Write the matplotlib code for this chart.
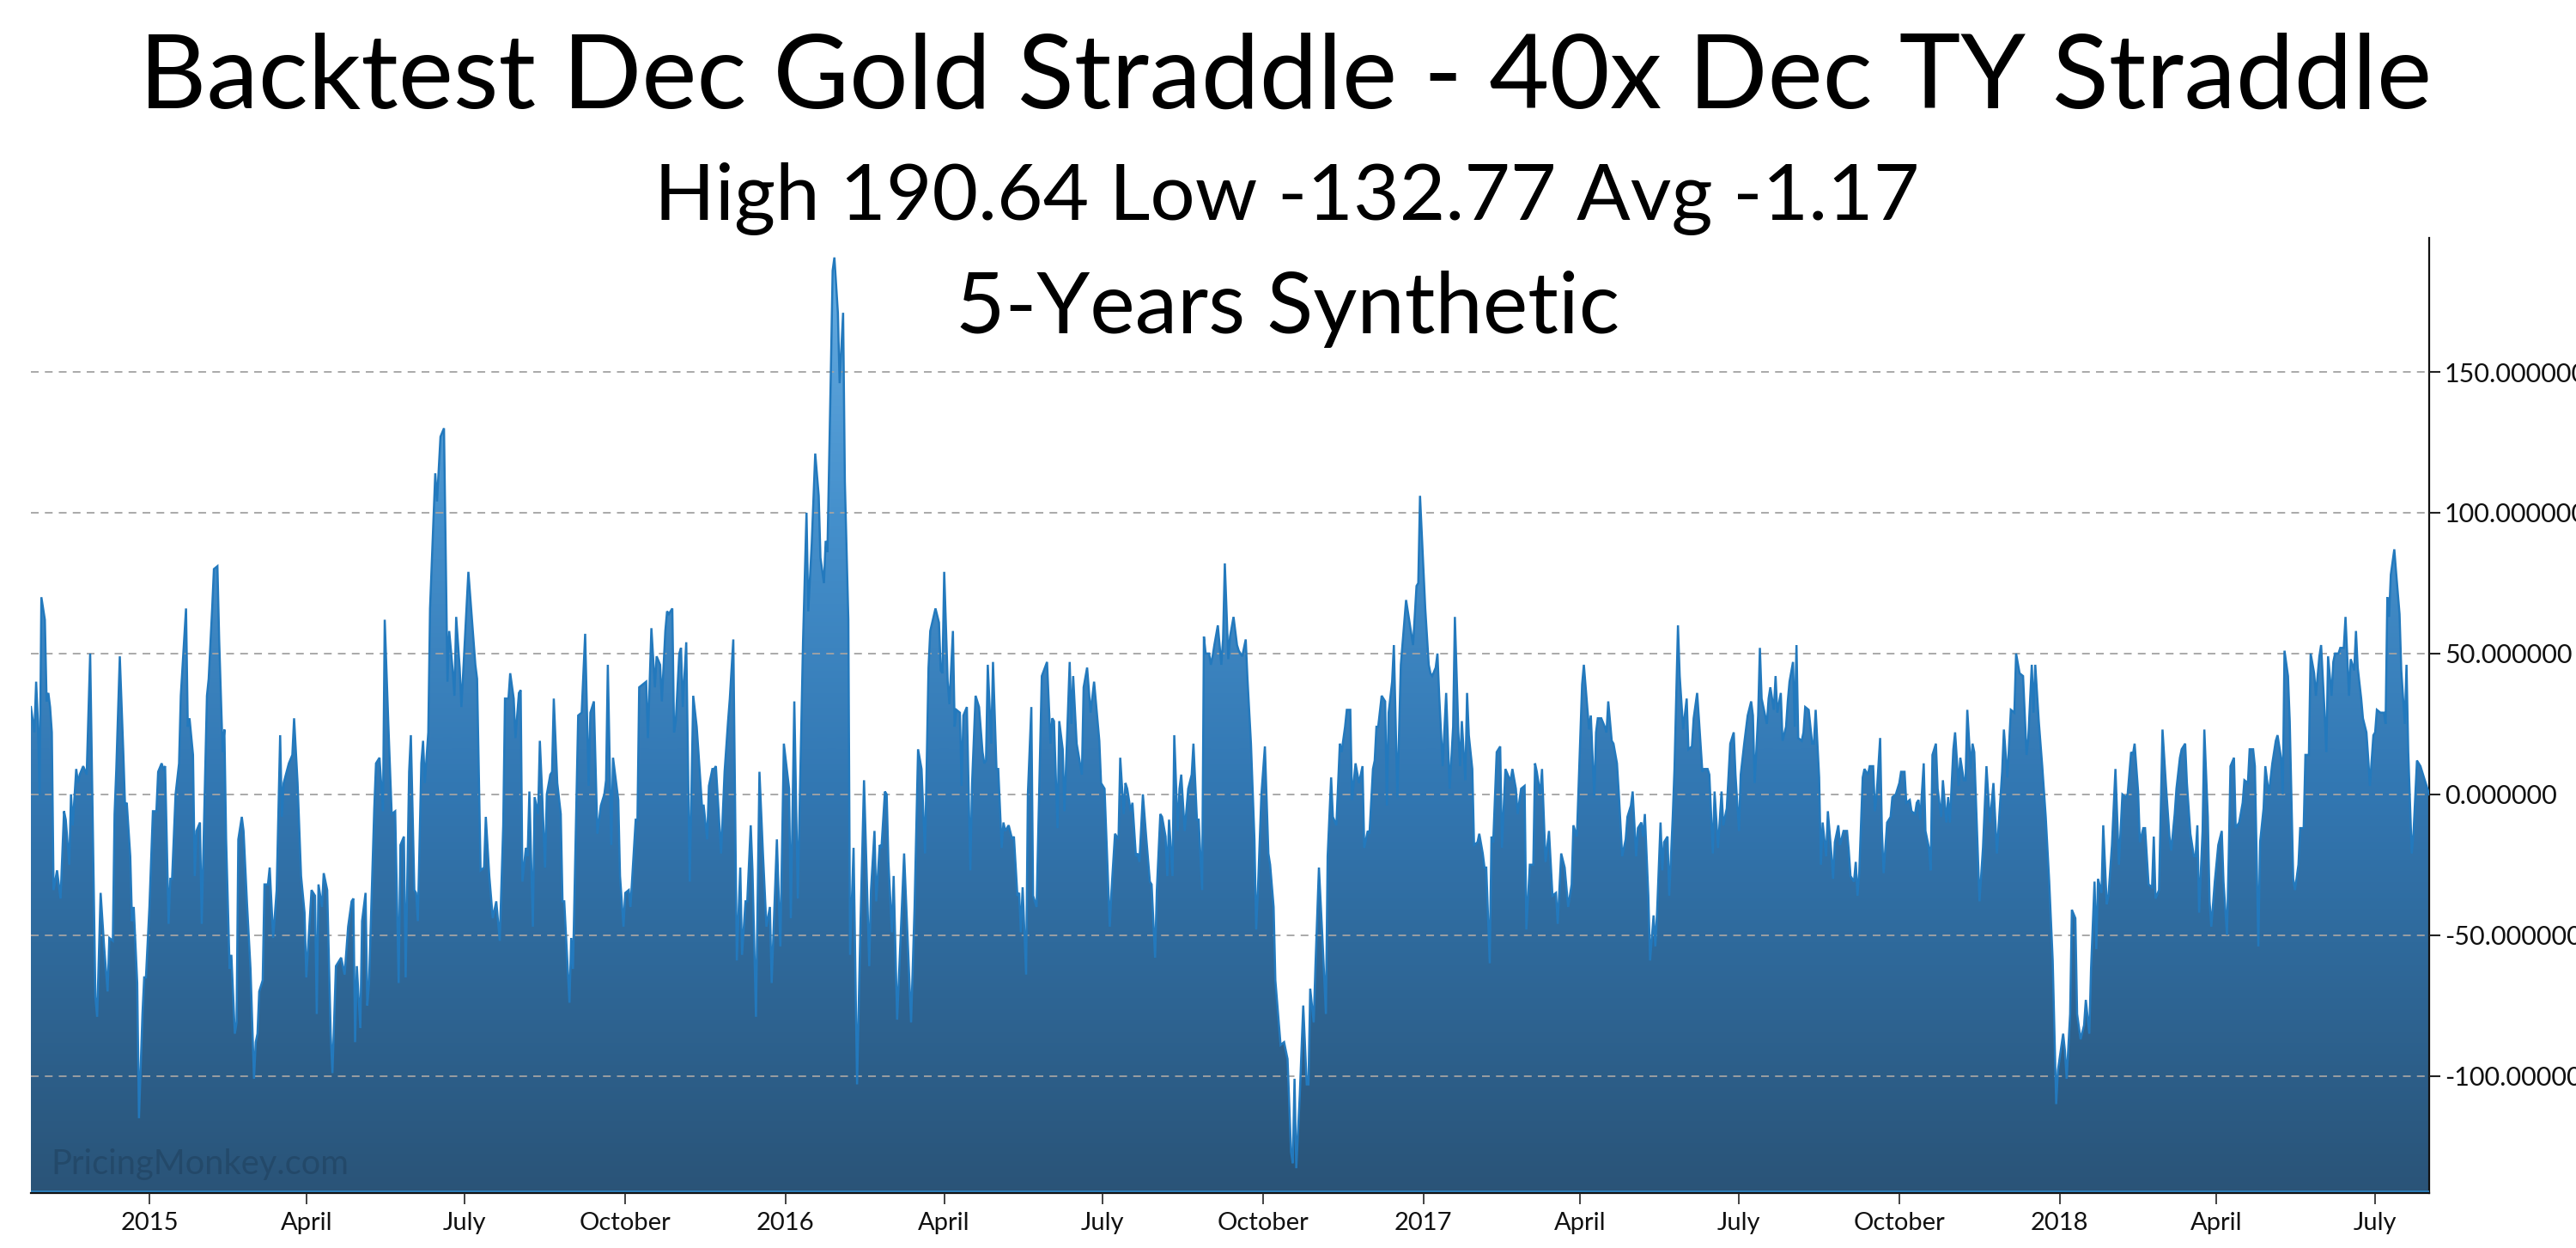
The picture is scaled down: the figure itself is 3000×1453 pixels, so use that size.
#!/usr/bin/env python3

import numpy as np
import pandas as pd
import matplotlib
matplotlib.use("Agg")
import matplotlib.pyplot as plt
import matplotlib.dates as mdates
from matplotlib.colors import LinearSegmentedColormap

# spread P&L: days after START and value
START = "2014-10-24"

day_offset = [
    1, 3, 4, 5, 6, 7, 9, 10, 11, 12,
    13, 14, 16, 17, 18, 20, 21, 23, 24, 25,
    27, 28, 29, 31, 33, 35, 38, 39, 41, 43,
    45, 46, 48, 49, 50, 52, 54, 55, 56, 58,
    59, 60, 62, 63, 65, 66, 67, 69, 71, 73,
    74, 76, 77, 78, 80, 81, 82, 84, 86, 87,
    90, 91, 92, 94, 95, 96, 98, 99, 101, 102,
    103, 105, 106, 108, 109, 111, 112, 113, 115, 116,
    118, 119, 120, 122, 123, 125, 127, 129, 130, 131,
    132, 134, 135, 137, 138, 140, 142, 144, 145, 146,
    149, 151, 152, 154, 156, 158, 159, 162, 164, 165,
    166, 168, 169, 171, 173, 174, 176, 178, 179, 181,
    183, 185, 186, 187, 188, 190, 191, 193, 194, 195,
    198, 199, 201, 203, 204, 206, 208, 210, 212, 213,
    215, 216, 218, 219, 221, 222, 223, 225, 226, 227,
    229, 230, 233, 234, 236, 238, 239, 240, 241, 243,
    244, 245, 247, 248, 250, 252,
    256, 257, 259, 261, 262, 264, 266, 268, 270, 272,
    273, 275, 276, 278, 279, 281, 282, 283, 285, 286,
    287, 289, 290, 292, 293, 294, 296, 297, 299, 300,
    301, 303, 305, 306, 307, 310, 311, 312, 315, 317,
    319, 321, 322, 324, 326, 328, 330, 331, 332, 334,
    335, 338, 339, 341, 342, 344, 345, 348, 349, 350,
    352, 354, 355, 356, 357, 359, 360, 362, 363, 365,
    366, 367, 369, 370, 371, 373, 374, 375, 377, 379,
    381, 383, 384, 386, 387, 389, 390, 392, 393, 394,
    397, 399, 401, 402, 404, 406, 408, 409, 411, 412,
    414, 415, 417, 419, 421, 423, 425, 426, 429, 431,
    433, 436, 437, 439, 441, 444, 446, 447, 449, 451,
    453, 454, 456, 457, 458, 460, 461, 462, 464, 465,
    467, 468, 470, 471, 473, 475, 477, 479, 482, 483,
    485, 486, 488, 489, 491, 492, 493, 495, 496, 498,
    502, 503, 506, 508, 510, 512, 514, 516, 517,
    520, 522, 523, 524, 525, 527, 528, 530, 531, 532,
    534, 535, 536, 538, 540, 541, 543, 545, 547, 548,
    549, 550, 552, 553, 555, 556, 558, 559, 560, 562,
    564, 565, 567, 568, 569, 570, 572, 573, 575, 576,
    578, 580, 581, 584, 586, 587, 588, 590, 591, 593,
    594, 597, 598, 599, 601, 604, 605, 607, 609, 611,
    614, 615, 617, 620, 621, 623, 625, 626, 628, 629,
    630, 632, 633, 635, 636, 637, 639, 641, 643, 644,
    646, 647, 649, 650, 652, 653, 654, 656, 657, 659,
    660, 661, 663, 665, 667, 668, 670, 671, 673, 674,
    675, 677, 678, 679, 680, 682, 684, 685, 686, 688,
    689, 691, 693, 694, 696, 698, 699, 701, 703, 704,
    705, 707, 709, 711, 712, 714, 715, 718, 720, 722,
    724, 725, 726, 727, 729, 731, 733, 734, 735, 737,
    738, 740, 742, 744, 745, 747, 748, 750, 752, 753,
    755, 756, 758, 759, 761, 763, 765, 766, 768, 769,
    771, 772, 773, 774, 776, 778, 779, 780, 782, 783,
    785, 787, 790, 792, 794, 796, 797, 798,
    801, 803, 804, 805, 807, 808, 809, 811, 813, 814,
    815, 817, 818, 820, 821, 822, 824, 825, 826, 828,
    829, 831, 832, 834, 835, 836, 838, 839, 840, 842,
    844, 845, 847, 849, 850, 851, 853, 854, 856, 858,
    859, 861, 863, 864, 865, 867, 868, 870, 872, 874,
    876, 877, 879, 881, 883, 885, 886, 888, 891, 892,
    895, 896, 898, 899, 900, 902, 904, 905, 906, 908,
    909, 911, 912, 914, 916, 917, 919, 920, 922, 923,
    925, 926, 927, 929, 930, 932, 933, 934, 936, 937,
    938, 940, 941, 943, 944, 946, 947, 949, 951, 952,
    954, 955, 957, 958, 960, 961, 963, 964, 966, 967,
    969, 971, 972, 974, 976, 978, 979, 981, 982, 984,
    986, 988, 989, 990, 992, 993, 994, 997, 998, 999,
    1001, 1002, 1003, 1005, 1006, 1008, 1009, 1010, 1012, 1013,
    1014, 1015, 1017, 1018, 1019, 1021, 1023, 1024, 1025, 1027,
    1028, 1029, 1031, 1032, 1034, 1035, 1036, 1038, 1039, 1041,
    1043, 1044, 1045, 1047, 1048, 1049, 1050, 1052, 1053, 1055,
    1056, 1058, 1059, 1060, 1062, 1063, 1064, 1066, 1068, 1069,
    1071, 1073, 1074, 1076, 1077, 1079, 1080,
    1082, 1083, 1084, 1085, 1087, 1088, 1090, 1091, 1092, 1094,
    1095, 1097, 1098, 1100, 1101, 1102, 1104, 1105, 1107, 1108,
    1110, 1111, 1112, 1114, 1115, 1116, 1118, 1119, 1121, 1123,
    1125, 1127, 1129, 1130, 1132, 1133, 1135, 1137, 1139, 1140,
    1142, 1144, 1146, 1147, 1149, 1150, 1151, 1153, 1155, 1157,
    1159, 1161, 1163, 1164, 1167, 1168, 1169, 1171, 1172, 1174,
    1175, 1177, 1179, 1180, 1182, 1183, 1185, 1186, 1187, 1189,
    1190, 1192, 1193, 1195, 1197, 1199, 1201, 1203, 1204, 1206,
    1207, 1208, 1210, 1211, 1213, 1214, 1216, 1218, 1219, 1220,
    1222, 1224, 1226, 1228, 1229, 1231, 1232, 1234, 1235, 1237,
    1238, 1240, 1242, 1243, 1244, 1245, 1247, 1248, 1250, 1251,
    1252, 1254, 1256, 1258, 1259, 1261, 1262, 1263, 1265, 1266,
    1268, 1270, 1271, 1273, 1274, 1276, 1277, 1279, 1280, 1282,
    1283, 1285, 1287, 1289, 1290, 1292, 1293, 1294, 1296, 1297,
    1299, 1300, 1302, 1303, 1305, 1306, 1308, 1309, 1311, 1312,
    1314, 1315, 1317, 1318, 1319, 1321, 1322, 1323, 1325, 1326,
    1328, 1329, 1331, 1332, 1334, 1335, 1336, 1338, 1339, 1341,
    1342, 1343, 1345, 1346, 1347, 1349, 1351, 1352, 1353, 1354,
    1355, 1357, 1358, 1360, 1361, 1363, 1364, 1365, 1367, 1368,
    1370, 1372, 1374, 1376, 1377,
]

pnl = [
    31, 22, 40, 26, 0, 70, 62, 33, 36, 31,
    22, -34, -27, -32, -37, -6, -9, -25, 0, -11,
    9, 4, 7, 10, 7, 50, -72, -79, -35, -54,
    -70, -51, -52, -7, 9, 49, 15, -4, -3, -22,
    -45, -40, -67, -115, -78, -65, -65, -40, -6, -6,
    8, 11, 9, 10, -46, -30, -30, 0, 11, 35,
    66, 24, 27, 14, -29, -13, -10, -46, 9, 35,
    41, 66, 80, 81, 55, 15, 23, -16, -62, -57,
    -85, -81, -16, -8, -13, -39, -62, -101, -88, -85,
    -70, -66, -32, -32, -26, -51, -34, 21, -8, 4,
    11, 14, 27, 4, -29, -42, -65, -34, -36, -78,
    -32, -40, -28, -34, -85, -99, -61, -59, -58, -64,
    -47, -38, -37, -88, -61, -83, -45, -35, -75, -67,
    -5, 11, 13, -6, 62, 26, -7, -6, -67, -18,
    -15, -65, 8, 21, -34, -35, -45, 11, 19, 4,
    22, 66, 114, 104, 127, 130, 84, 40, 58, 44,
    35, 63, 45, 31, 55, 79,
    46, 41, -27, -26, -8, -29, -44, -38, -52, -11,
    34, 34, 43, 34, 20, 36, 37, -31, -19, -22,
    1, -47, -1, -7, 19, 5, -26, 0, 7, 8,
    34, 4, -7, -38, -38, -74, -51, -62, 28, 29,
    57, 3, 29, 33, -14, -4, 0, 5, 46, -18,
    13, -2, -29, -47, -35, -34, -40, -9, -9, 38,
    39, 40, 20, 40, 59, 38, 49, 46, 33, 58,
    65, 64, 66, 22, 26, 50, 52, 31, 54, -31,
    35, 24, 15, -4, -4, -16, 3, 9, 9, 10,
    -21, 8, 26, 34, 55, -59, -26, -57, -38, -38,
    -11, -27, -79, 8, -21, -47, -40, -67, -16, -54,
    18, 2, -44, 33, -37, 54, 100, 65, 89, 121,
    106, 84, 75, 90, 86, 151, 186, 190.64, 171, 146,
    171, 111, 62, -57, -19, -103, -45, 5, -61, -34,
    -13, -38, -18, -19, 1, 0, -24, -49, -29, -80,
    -21, -36, -81, -40, 16, 9, -21, 45, 58,
    66, 61, 44, 43, 79, 40, 32, 58, 24, 30,
    29, 3, 28, 31, -27, 4, 35, 31, 15, 11,
    12, 46, 18, 47, 9, 9, -19, -10, -13, -11,
    -16, -15, -36, -35, -49, -33, -64, 0, 31, -36,
    -40, 15, 42, 47, 18, 27, 26, -12, 26, 16,
    -6, 47, 25, 42, 18, 7, 38, 45, 29, 40,
    19, 4, 2, -47, -34, -14, -16, 13, -7, 4,
    2, -6, -3, -22, -21, -24, 0, -16, -31, -32,
    -58, -34, -7, -8, -15, -29, -9, -29, 21, -13,
    2, 7, -13, 2, 7, 18, -9, -9, -34, 56,
    50, 50, 46, 49, 53, 60, 46, 55, 82, 48,
    56, 63, 53, 51, 49, 55, 41, 18, -16, -48,
    -34, 0, 17, -21, -25, -40, -66, -89, -88, -94,
    -127, -131, -101, -132.77, -107, -75, -103, -103, -69, -81,
    -61, -26, -51, -78, -22, 6, -8, -11, 18, 15,
    24, 30, 30, -2, 11, 4, 10, -19, -13, -14,
    9, 12, 24, 24, 35, 33, -4, 29, 40, 53,
    -1, 46, 69, 61, 53, 74, 75, 106,
    66, 46, 43, 42, 45, 50, 35, 10, 36, 19,
    2, 24, 63, 22, 10, 26, 5, 36, 21, 9,
    -18, -17, -14, -21, -26, -26, -60, -15, -17, 15,
    17, -19, 9, 6, 5, 9, 2, -7, 2, 3,
    -48, -25, -25, 11, 8, 0, 9, -24, -13, -36,
    -35, -46, -21, -26, -40, -32, -11, -15, 39, 46,
    23, 28, -1, 22, 27, 27, 24, 22, 33, 19,
    18, 11, 1, -22, -16, -8, -4, 1, -22, -12,
    -10, -15, -7, -36, -59, -43, -54, -42, -10, -27,
    -17, -15, -36, -8, 9, 60, 42, 23, 34, 16,
    17, 27, 36, 27, 8, 9, 9, 7, -21, 1,
    -19, 1, -11, -5, 18, 22, 7, -13, 7, 18,
    28, 33, 28, 4, 28, 52, 34, 25, 34, 38,
    30, 42, 29, 36, 19, 24, 33, 40, 47, 24,
    53, 20, 19, 22, 31, 30, 18, 18, 30, 6,
    -25, -10, -22, -6, -21, -30, -17, -11, -18, -13,
    -13, -20, -29, -31, -24, -36, -28, 6, 9, 7,
    10, 10, -6, 0, 20, -13, -28, -10, -8, -1,
    0, 4, 8, 8, -3, -2, -6,
    -7, -3, -2, -9, 11, -13, -19, -27, 14, 18,
    2, -8, 5, -10, -1, -10, 16, 22, 3, 13,
    5, 5, 30, 9, 18, 15, -20, -38, -19, 10,
    -10, 4, -21, -11, 8, 23, 6, 30, 29, 50,
    43, 42, 14, 20, 46, 29, 46, 26, 10, -8,
    -31, -59, -110, -98, -85, -91, -101, -78, -41, -44,
    -78, -87, -82, -73, -85, -62, -31, -55, -30, -35,
    -11, -39, -36, -18, 9, -25, 0, -1, 0, 15,
    14, 18, 1, -17, -12, -12, -32, -33, -15, -37,
    -34, 23, 3, -15, -20, -7, 2, 13, 16, 18,
    4, -14, -22, -22, -11, -42, -13, 23, -8, -38,
    -47, -31, -18, -13, -31, -50, -22, 10, 13, -12,
    -10, -3, 5, 4, 16, 16, 10, -54, -17, -5,
    10, 0, 11, 19, 21, 13, 0, 51, 42, 26,
    -30, -34, -25, -12, -12, 14, 14, 50, 43, 35,
    49, 53, 29, 15, 49, 35, 47, 50, 50, 52,
    52, 63, 35, 48, 44, 58, 45, 34, 27, 22,
    13, 3, 21, 22, 30, 29, 29, 25, 70, 63,
    78, 87, 79, 64, 44, 25, 46, 15, -21, -14,
    12, 10, 6, 2, 0,
]

TICK_DATES = [
    "2015-01-01", "2015-04-01", "2015-07-01", "2015-10-01",
    "2016-01-01", "2016-04-01", "2016-07-01", "2016-10-01",
    "2017-01-01", "2017-04-01", "2017-07-01", "2017-10-01",
    "2018-01-01", "2018-04-01", "2018-07-01",
]
TICK_LABELS = [
    "2015", "April", "July", "October",
    "2016", "April", "July", "October",
    "2017", "April", "July", "October",
    "2018", "April", "July",
]
Y_TICKS = [-100, -50, 0, 50, 100, 150]

TITLE = "Backtest Dec Gold Straddle - 40x Dec TY Straddle"
SUBTITLE = "High 190.64 Low -132.77 Avg -1.17"
SUBTITLE2 = "5-Years Synthetic"
CREDIT = "PricingMonkey.com"


def fit_width(fig, txt, width_px):
    """scale a text's font size so it spans width_px"""
    r = fig.canvas.get_renderer()
    for _ in range(3):
        w = txt.get_window_extent(renderer=r).width
        txt.set_fontsize(txt.get_fontsize() * width_px / w)


def main():
    plt.rcParams['font.family'] = ['Lato', 'DejaVu Sans']

    n = min(len(day_offset), len(pnl))
    dates = pd.Timestamp(START) + pd.to_timedelta(day_offset[:n], unit="D")
    x = mdates.date2num(dates)
    y = np.array(pnl[:n], dtype=float)

    fig = plt.figure(figsize=(30, 14.53), dpi=100)
    ax = fig.add_axes([0.012, 0.044, 0.931, 0.7654])
    ymin, ymax = -141.6, 197.6

    # area down to the bottom of the plot, filled with a vertical gradient
    poly = ax.fill_between(x, y, ymin, facecolor='none', lw=0)
    cmap = LinearSegmentedColormap.from_list(
        "area", [(0.0, '#2a5478'), (0.417, '#3277b2'), (0.71, '#4590cc'), (1.0, '#68aee3')])
    grad = np.linspace(0, 1, 256).reshape(-1, 1)
    im = ax.imshow(grad, extent=[x[0], x[-1], ymin, ymax], origin='lower',
                   aspect='auto', cmap=cmap, zorder=1, interpolation='bilinear')
    im.set_clip_path(poly.get_paths()[0], transform=ax.transData)
    ax.plot(x, y, color='#2379bd', lw=1.8, zorder=3, solid_joinstyle='miter')
    ax.axhline(ymin + 0.5, color='#2e86c6', lw=1.2, zorder=3)

    ax.set_xlim(x[0], x[-1])
    ax.set_ylim(ymin, ymax)

    # axes
    ax.set_xticks(mdates.date2num(pd.to_datetime(TICK_DATES)))
    ax.set_xticklabels(TICK_LABELS)
    ax.set_yticks(Y_TICKS)
    ax.set_yticklabels([f"{v:.6f}" for v in Y_TICKS])
    ax.yaxis.tick_right()
    ax.tick_params(axis='x', length=9.5, width=1.2, pad=6, labelsize=21,
                   color='#222222', labelcolor='#111111')
    ax.tick_params(axis='y', length=9, width=1.5, pad=4, labelsize=22,
                   color='#222222', labelcolor='#111111')
    ax.grid(axis='y', color='#a3a3a3', lw=1.3, ls=(0, (5, 4)))
    ax.set_axisbelow(False)
    for side in ['top', 'left']:
        ax.spines[side].set_visible(False)
    ax.spines['right'].set_linewidth(1.6)
    ax.spines['bottom'].set_linewidth(1.6)
    ax.spines['right'].set_color('#111111')
    ax.spines['bottom'].set_color('#111111')

    # titles
    t1 = fig.text(0.499, 1 - 126 / 1453, TITLE, ha='center', va='baseline',
                  fontsize=80, color='black')
    t2 = fig.text(0.4995, 1 - 256 / 1453, SUBTITLE, ha='center', va='baseline',
                  fontsize=65, color='black')
    t3 = fig.text(0.5, 1 - 388 / 1453, SUBTITLE2, ha='center', va='baseline',
                  fontsize=65, color='black')
    fit_width(fig, t1, 2669)
    fit_width(fig, t2, 1473)
    fit_width(fig, t3, 773)

    wm = fig.text(59 / 3000, 1 - 1367 / 1453, CREDIT, ha='left', va='baseline',
                  fontsize=28, color='#1c3a55', alpha=0.45)
    fit_width(fig, wm, 346)

    fig.savefig("out.png", dpi=100)
    plt.close()


if __name__ == '__main__':
    main()
